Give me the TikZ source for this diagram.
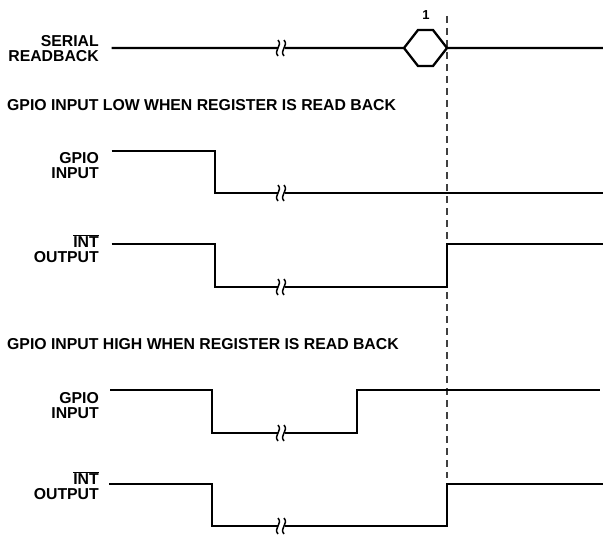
\documentclass[tikz,border=0pt]{standalone}
\usepackage{fontspec}
\setmainfont{Liberation Sans}
\usetikzlibrary{positioning}

% squiggle pair that marks a time break on a trace
\newcommand{\tbreak}[1]{%
  \fill[white] ([xshift=-3.5pt,yshift=-3pt]#1) rectangle ([xshift=3.5pt,yshift=3pt]#1);
  \draw[brk] ([xshift=-3pt,yshift=-8pt]#1) .. controls ([xshift=-8pt,yshift=-2pt]#1) and ([xshift=2pt,yshift=2pt]#1) .. ([xshift=-3pt,yshift=8pt]#1);
  \draw[brk] ([xshift=3pt,yshift=-8pt]#1) .. controls ([xshift=-2pt,yshift=-2pt]#1) and ([xshift=8pt,yshift=2pt]#1) .. ([xshift=3pt,yshift=8pt]#1);
}

\begin{document}
\begin{tikzpicture}[x=1pt, y=-1pt,
    sig/.style={line width=2.3pt},
    brk/.style={line width=1.5pt},
    lbl/.style={font=\fontsize{15.8}{15.4}\selectfont\bfseries, align=right,
                anchor=base east, inner sep=0pt},
    ttl/.style={font=\fontsize{15.8}{15.4}\selectfont\bfseries, anchor=base west,
                inner sep=0pt},
    cursor/.style={line width=1.3pt, black!75, dash pattern=on 7pt off 5pt},
]
\useasboundingbox (0,0) rectangle (603,535);

% ── Cursor (register read back) ───────────────────────
\coordinate (curtop) at (447,16);
\coordinate (curbot) at (447,478);
\draw[cursor] (curtop) -- (curbot);

% ── Serial readback ───────────────────────────────────
\node[lbl] (serlbl) at (99,61.5) {SERIAL\\READBACK};
\node[font=\fontsize{13}{13}\selectfont\bfseries, inner sep=0pt] (one) at (426,15) {1};
\draw[sig] (111.5,48) -- (404,48) -- (418,30) -- (433,30) -- (447,48) -- (603,48);
\draw[sig] (404,48) -- (418,66) -- (433,66) -- (447,48);
\tbreak{281,48}

% ── Case 1: GPIO low at read back ─────────────────────
\node[ttl] (title1) at (7,110.5) {GPIO INPUT LOW WHEN REGISTER IS READ BACK};

\node[lbl] (gpiolbla) at (99,178.5) {GPIO\\INPUT};
\draw[sig] (111.5,151) -- (215,151) -- (215,193) -- (603,193);
\tbreak{281,193}

\node[lbl] (intlbla) at (99,262.5) {$\overline{\textbf{INT}}$\\OUTPUT};
\draw[sig] (111.5,244) -- (215,244) -- (215,287) -- (447,287) -- (447,244) -- (603,244);
\tbreak{281,287}

% ── Case 2: GPIO high at read back ────────────────────
\node[ttl] (title2) at (7,349.5) {GPIO INPUT HIGH WHEN REGISTER IS READ BACK};

\node[lbl] (gpiolblb) at (99,418.5) {GPIO\\INPUT};
\draw[sig] (110,390) -- (212,390) -- (212,433) -- (357,433) -- (357,390) -- (600,390);
\tbreak{281,433}

\node[lbl] (intlblb) at (99,499.5) {$\overline{\textbf{INT}}$\\OUTPUT};
\draw[sig] (109,484) -- (212,484) -- (212,526) -- (447,526) -- (447,484) -- (603,484);
\tbreak{281,526}

\end{tikzpicture}
\end{document}
